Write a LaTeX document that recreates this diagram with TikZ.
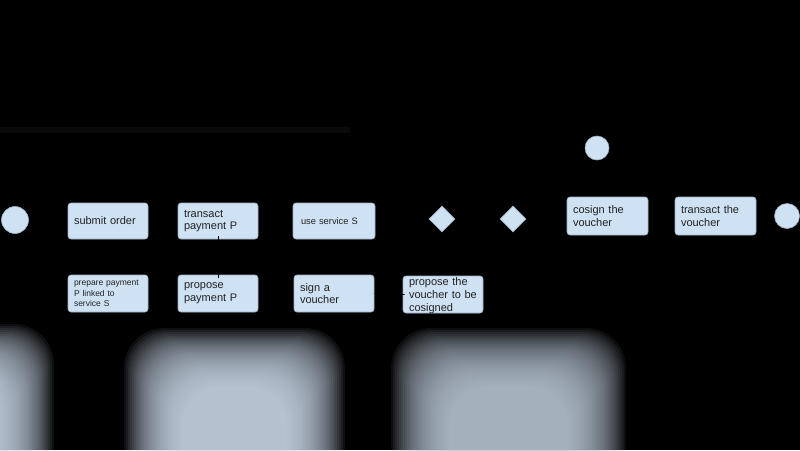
\documentclass[tikz,border=0pt]{standalone}
\usepackage{fontspec}
\setmainfont{Liberation Sans}
\usetikzlibrary{shapes.geometric}
\definecolor{boxblue}{HTML}{CFE2F3}
\definecolor{boxedge}{HTML}{9FB0C0}
\definecolor{txt}{HTML}{222222}
\definecolor{blobc}{HTML}{D2E2F1}
\definecolor{blobd}{HTML}{BFCDDB}
\definecolor{faint}{HTML}{0A0A0A}
\tikzset{
  act/.style={rectangle, rounded corners=3pt, fill=boxblue, draw=boxedge, line width=0.6pt,
    inner xsep=6pt, inner ysep=0pt, text width=68pt, minimum height=36pt, align=left,
    text=txt, font=\fontsize{11}{12.7}\selectfont},
  smalltxt/.style={font=\fontsize{8.5}{10.5}\selectfont},
  midtxt/.style={font=\fontsize{9.3}{11}\selectfont},
  dot/.style={circle, fill=boxblue, draw=boxedge, line width=0.6pt, inner sep=0pt},
  dec/.style={diamond, fill=boxblue, draw=boxedge, line width=0.6pt, inner sep=0pt,
    minimum width=26pt, minimum height=26pt},
  stubline/.style={draw=black, line width=0.8pt}
}
\begin{document}
\begin{tikzpicture}[x=1pt,y=-1pt]
\useasboundingbox (0,0) rectangle (800,450);
\fill[black] (0,0) rectangle (800,450);
% faint band
\fill[faint] (0,127) rectangle (350,133);
% blurred area
\begin{scope}
\clip (0,0) rectangle (800,450);
\foreach \k in {0,...,29} {
  \fill[blobc, fill opacity=0.07, rounded corners=40pt] ({-80+\k*2},{324+\k*2}) rectangle ({54-\k*2},540);
  \fill[blobc, fill opacity=0.07, rounded corners=40pt] ({124+\k*2},{328+\k*2}) rectangle ({345-\k*2},540);
  \fill[blobd, fill opacity=0.07, rounded corners=40pt] ({391+\k*2},{328+\k*2}) rectangle ({626-\k*2},540);
}
\end{scope}
% nodes
\node[dot, minimum size=27pt] (start) at (15,220) {};
\node[act] (submit) at (108,221) {submit order};
\node[act] (transP) at (218,221) {transact\\payment P};
\node[act, midtxt, inner xsep=8pt, text width=66pt] (use) at (334,221) {use service S};
\node[dec] (d1) at (442,219) {};
\node[dec] (d2) at (513,219) {};
\node[dot, minimum size=24pt] (top) at (597,148) {};
\node[act, minimum height=38pt, text width=69pt] (cosign) at (607.5,216) {cosign the\\voucher};
\node[act, minimum height=38pt, text width=69pt] (transV) at (715.5,216) {transact the\\voucher};
\node[dot, minimum size=25pt] (end) at (787,216) {};
\node[act, smalltxt, minimum height=37pt] (prep) at (108,293.5) {prepare payment\\P linked to\\service S};
\node[act, minimum height=37pt] (propP) at (218,293.5) {propose\\payment P};
\node[act, minimum height=37pt] (sign) at (334,293.5) {sign a\\voucher};
\node[act, minimum height=37pt, text width=68pt] (propV) at (443,294.5) {};
\node[align=left, text width=68pt, inner sep=0pt, text=txt, font=\fontsize{11}{12.7}\selectfont]
  (propVtxt) at ([yshift=-1pt]propV.center) {propose the\\voucher to be\\cosigned};
% connector stubs (only visible over the boxes)
\draw[stubline] ([yshift=-3pt]propP.north) -- ([yshift=3pt]transP.south);
\draw[stubline] (sign.east) -- ([xshift=2pt]propV.west);
\end{tikzpicture}
\end{document}
